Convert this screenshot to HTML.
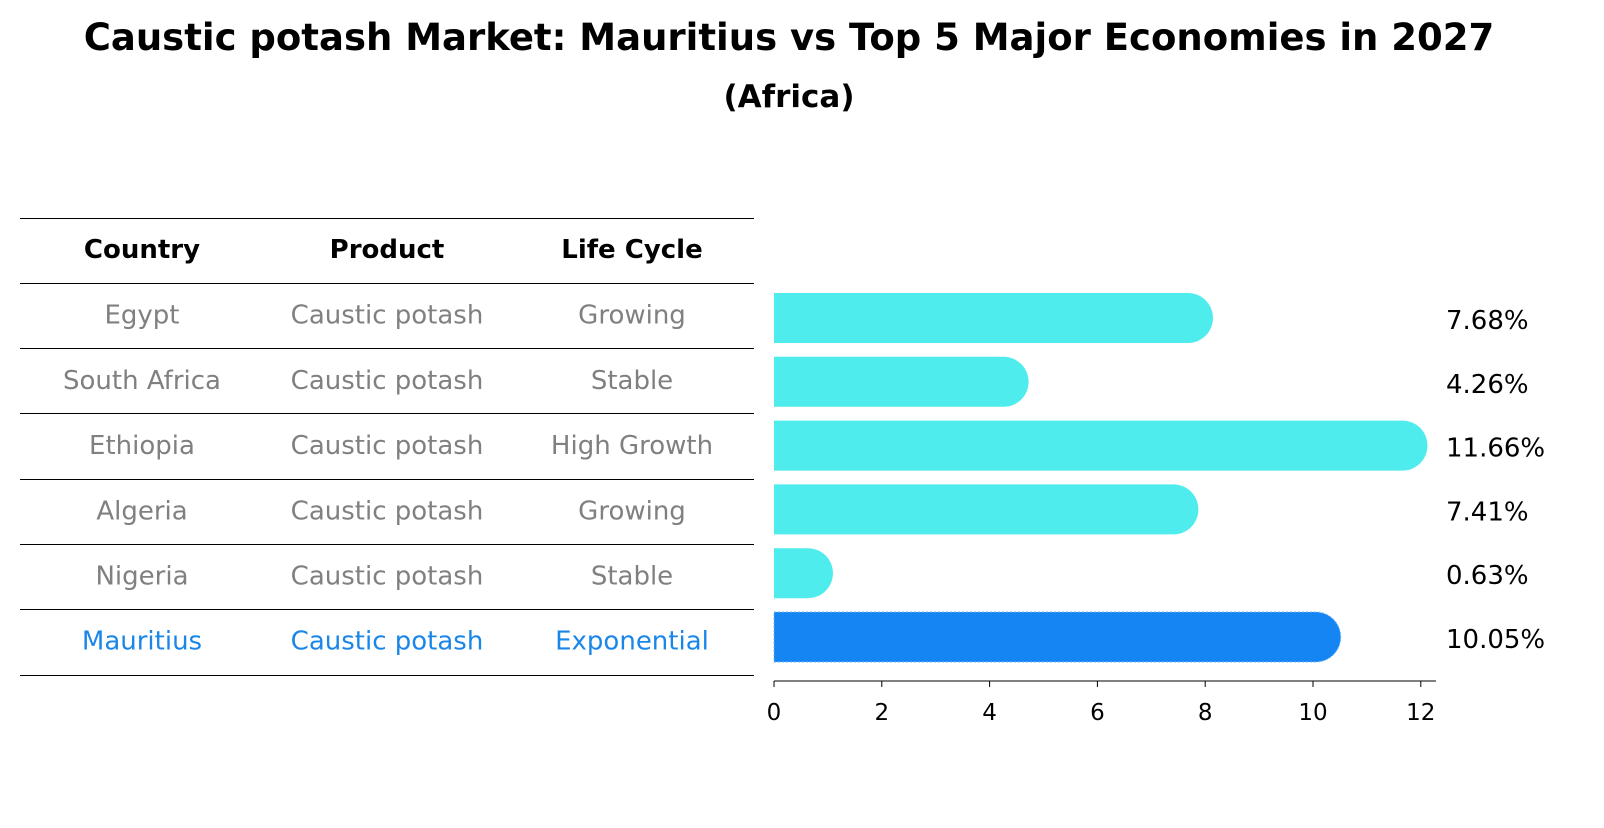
<!DOCTYPE html>
<html><head><meta charset="utf-8"><style>
body{margin:0;background:#fff;font-family:"Liberation Sans","DejaVu Sans",sans-serif}
</style></head><body>
<svg width="1604" height="823" viewBox="0 0 1604 823" xmlns="http://www.w3.org/2000/svg" font-family="DejaVu Sans, Liberation Sans, sans-serif">
<text x="789" y="50" text-anchor="middle" font-size="37" font-weight="bold">Caustic potash Market: Mauritius vs Top 5 Major Economies in 2027</text>
<text x="789" y="107" text-anchor="middle" font-size="31" font-weight="bold">(Africa)</text>
<g id="table"></g>
<g id="bars"></g>
</svg>
<script>
const countries=["Egypt","South Africa","Ethiopia","Algeria","Nigeria","Mauritius"];
const products=["Caustic potash","Caustic potash","Caustic potash","Caustic potash","Caustic potash","Caustic potash"];
const lifeCycles=["Growing","Stable","High Growth","Growing","Stable","Exponential"];
const values=[7.68,4.26,11.66,7.41,0.63,10.05];
const ticks=[0,2,4,6,8,10,12];
const NS="http://www.w3.org/2000/svg";
function mk(tag,attrs,parent,text){const e=document.createElementNS(NS,tag);for(const k in attrs)e.setAttribute(k,attrs[k]);if(text!==undefined)e.textContent=text;parent.appendChild(e);return e;}
const tbl=document.getElementById('table');
const lineYs=[218,283,348,413,479,544,609,675];
lineYs.forEach(y=>{const l=mk('line',{x1:20,x2:754,y1:y+0.5,y2:y+0.5,stroke:'#000','stroke-width':1},tbl);

});
const colX=[142,387,632];
["Country","Product","Life Cycle"].forEach((h,i)=>{const t=mk('text',{x:colX[i],y:258,'text-anchor':'middle','font-size':26,'font-weight':'bold'},tbl,h);

});
const rowY=i=>250.5+65.2*(i+1);
const yScale=i=>318+63.8*i;
const xScale=v=>774+v*53.9;
const bars=document.getElementById('bars');
countries.forEach((c,i)=>{
 const col=c==="Mauritius"?'#1a86e8':'#808080';
 [c,products[i],lifeCycles[i]].forEach((s,j)=>{const t=mk('text',{x:colX[j],y:rowY(i)+8,'text-anchor':'middle','font-size':26,fill:col},tbl,s);
 
 });
 const yc=yScale(i),h=50,r=25;
 const x0=xScale(0),x1=xScale(values[i]);
 const fill=c==="Mauritius"?'#1585f3':'#4eecec';
 const p=mk('path',{d:`M${x0},${yc-h/2} H${x1} A${r},${r} 0 0 1 ${x1},${yc+h/2} H${x0} Z`,fill:fill},bars);
 if(c==="Mauritius"){p.setAttribute('stroke','#6fb6f8');p.setAttribute('stroke-dasharray','2,2');p.setAttribute('stroke-width','1');}
 
 
 const t=mk('text',{x:1446,y:yc+11,'font-size':26},bars,values[i].toFixed(2)+'%');
 
 
});
const ax=mk('line',{x1:774,x2:1436,y1:681,y2:681,stroke:'#000','stroke-width':1},bars);


ticks.forEach(v=>{const x=xScale(v);
 const tk=mk('line',{x1:x,x2:x,y1:681,y2:687,stroke:'#000'},bars);
 
 
 const t=mk('text',{x:x,y:720,'text-anchor':'middle','font-size':23},bars,String(v));
 
 });
</script>
</body></html>
